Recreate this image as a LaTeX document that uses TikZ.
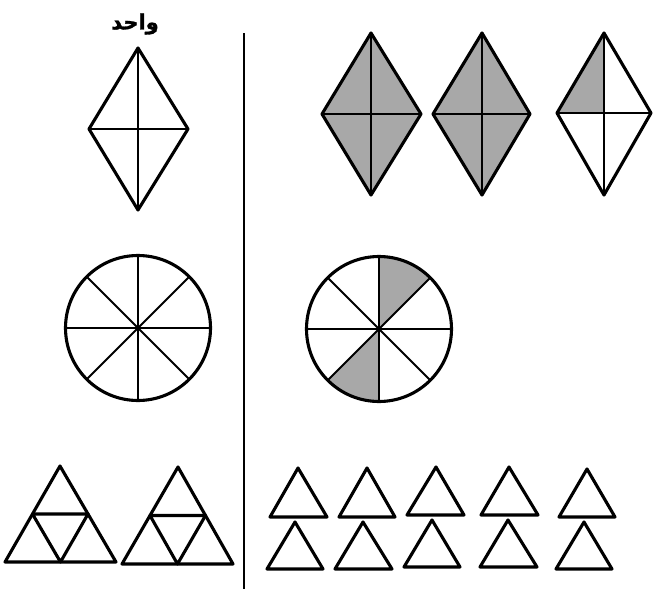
\documentclass[tikz,border=0pt]{standalone}
\usepackage{fontspec}
\usetikzlibrary{calc}
\newfontfamily\arabicfont[Script=Arabic,FakeBold=1.5]{DejaVu Sans Bold}
\TeXXeTstate=1
\begin{document}
\begin{tikzpicture}[x=1pt,y=-1pt,
  outline/.style={draw=black,line width=3.1pt,line join=round},
  inner/.style={draw=black,line width=2.1pt},
  divider/.style={draw=black,line width=1.4pt},
  shadefill/.style={fill={rgb,255:red,168;green,168;blue,168}},
  title/.style={font=\arabicfont\fontsize{21}{24}\selectfont,inner sep=0pt}]
\useasboundingbox (0,0) rectangle (654,589);

% title
\node[title] (t) at (135,24) {\beginR واحد\endR};

% divider
\coordinate (d1) at (244,33);
\coordinate (d2) at (244,589);
\draw[divider] (d1) -- (d2);

% ---------- unit diamond ----------
\coordinate (a1) at (138,48); \coordinate (a2) at (188,129);
\coordinate (a3) at (138,210); \coordinate (a4) at (89,129);
\draw[inner] (a1) -- (a3) (a4) -- (a2);
\draw[outline] (a1) -- (a2) -- (a3) -- (a4) -- cycle;

% ---------- shaded diamond 1 ----------
\coordinate (b1) at (371,33); \coordinate (b2) at (421,114);
\coordinate (b3) at (371,195); \coordinate (b4) at (322,114);
\fill[shadefill] (b1) -- (b2) -- (b3) -- (b4) -- cycle;
\draw[inner] (b1) -- (b3) (b4) -- (b2);
\draw[outline] (b1) -- (b2) -- (b3) -- (b4) -- cycle;

% ---------- shaded diamond 2 ----------
\coordinate (c1) at (482,33); \coordinate (c2) at (530,114);
\coordinate (c3) at (482,195); \coordinate (c4) at (433,114);
\fill[shadefill] (c1) -- (c2) -- (c3) -- (c4) -- cycle;
\draw[inner] (c1) -- (c3) (c4) -- (c2);
\draw[outline] (c1) -- (c2) -- (c3) -- (c4) -- cycle;

% ---------- diamond 3 (one quarter) ----------
\coordinate (e1) at (604,33); \coordinate (e2) at (651,113);
\coordinate (e3) at (604,195); \coordinate (e4) at (557,113);
\coordinate (e0) at (604,113);
\fill[shadefill] (e1) -- (e0) -- (e4) -- cycle;
\draw[inner] (e1) -- (e3) (e4) -- (e2);
\draw[outline] (e1) -- (e2) -- (e3) -- (e4) -- cycle;

% ---------- unit circle ----------
\coordinate (o1) at (138,328);
\foreach \ang in {0,45,...,135}
  \draw[inner] ($(o1)+(\ang:72.5)$) -- ($(o1)+(\ang+180:72.5)$);
\draw[outline] (o1) circle[radius=72.5];

% ---------- shaded circle ----------
\coordinate (o2) at (379,329);
\fill[shadefill] (o2) -- ++(0,-72.5) arc[start angle=-90,end angle=-45,radius=72.5] -- cycle;
\fill[shadefill] (o2) -- ++(0,72.5) arc[start angle=90,end angle=135,radius=72.5] -- cycle;
\foreach \ang in {0,45,...,135}
  \draw[inner] ($(o2)+(\ang:72.5)$) -- ($(o2)+(\ang+180:72.5)$);
\draw[outline] (o2) circle[radius=72.5];

% ---------- unit triangles ----------
\coordinate (p1) at (60,466); \coordinate (p2) at (116,562); \coordinate (p3) at (5,562);
\draw[outline] ($(p1)!0.5!(p3)$) -- ($(p1)!0.5!(p2)$) -- ($(p2)!0.5!(p3)$) -- cycle;
\draw[outline] (p1) -- (p2) -- (p3) -- cycle;
\coordinate (q1) at (178,467); \coordinate (q2) at (233,564); \coordinate (q3) at (122,564);
\draw[outline] ($(q1)!0.5!(q3)$) -- ($(q1)!0.5!(q2)$) -- ($(q2)!0.5!(q3)$) -- cycle;
\draw[outline] (q1) -- (q2) -- (q3) -- cycle;

% ---------- small triangles ----------
\foreach \ax/\ay/\bl/\br/\by in {
  298/468/270/327/517, 367/468/339/395/517, 436/467/407/464/515,
  509/467/481/538/515, 587/469/559/615/517,
  295/522/267/323/569, 363/522/335/392/569, 432/520/404/460/567,
  508/520/480/537/567, 584/522/556/612/569}
  \draw[outline] (\ax,\ay) -- (\br,\by) -- (\bl,\by) -- cycle;
\end{tikzpicture}
\end{document}
